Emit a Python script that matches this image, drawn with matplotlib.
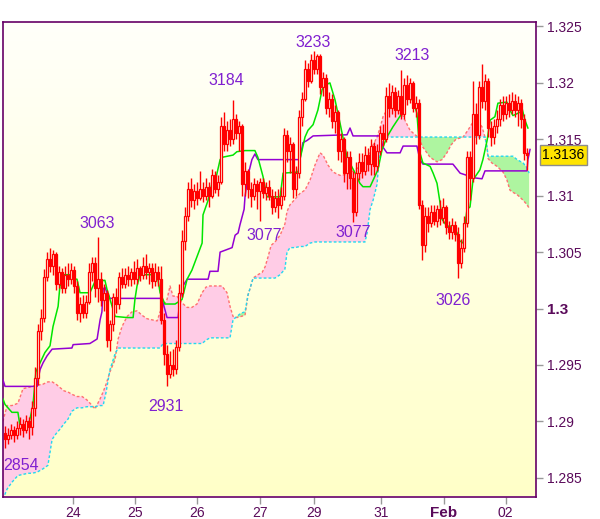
import numpy as np
import matplotlib
import matplotlib.pyplot as plt
from matplotlib.colors import LinearSegmentedColormap
from matplotlib import transforms

matplotlib.use("Agg")

# ── Data (prices stored as pips above 1.2800) ────────────────────────────────
BASE = 1.28

opens = [90, 84, 88, 92, 88, 94, 98, 92, 100, 95,
         112, 138, 180, 192, 228, 244, 238, 248, 222, 232,
         218, 230, 226, 234, 220, 196, 204, 196, 206, 232,
         240, 218, 226, 208, 214, 172, 186, 210, 204, 228,
         222, 230, 226, 232, 226, 236, 230, 238, 232, 236,
         224, 232, 226, 190, 160, 142, 150, 146, 166, 214,
         260, 282, 306, 296, 304, 298, 306, 300, 308, 300,
         318, 306, 312, 362, 346, 358, 350, 368, 356, 362,
         310, 322, 306, 300, 310, 304, 312, 302, 308, 300,
         290, 298, 292, 300, 354, 340, 346, 306, 320, 370,
         386, 412, 402, 420, 412, 424, 396, 404, 378, 386,
         366, 374, 340, 350, 320, 334, 316, 286, 320, 330,
         322, 336, 328, 344, 326, 340, 356, 350, 388, 378,
         392, 376, 388, 372, 398, 386, 400, 378, 382, 292,
         256, 282, 276, 286, 278, 288, 280, 290, 272, 268,
         274, 266, 240, 254, 276, 334, 316, 372, 354, 396,
         384, 402, 360, 352, 362, 368, 380, 372, 382, 376,
         384, 376, 382, 368, 338]
highs = [96, 94, 98, 96, 100, 104, 102, 106, 104, 118,
         148, 186, 200, 235, 250, 254, 252, 250, 238, 236,
         238, 240, 240, 238, 224, 210, 212, 212, 240, 246,
         246, 263, 232, 222, 216, 190, 214, 218, 232, 236,
         236, 238, 236, 242, 244, 238, 246, 248, 240, 240,
         240, 238, 238, 196, 168, 162, 164, 172, 222, 270,
         290, 312, 316, 310, 312, 322, 312, 316, 312, 324,
         322, 318, 370, 374, 366, 368, 385, 372, 366, 364,
         330, 324, 312, 316, 314, 316, 316, 312, 314, 306,
         304, 306, 308, 360, 358, 352, 348, 326, 376, 392,
         420, 418, 426, 428, 426, 426, 410, 408, 392, 390,
         380, 376, 356, 352, 340, 340, 322, 330, 338, 338,
         344, 342, 350, 348, 346, 362, 364, 396, 400, 398,
         396, 394, 411, 404, 407, 404, 402, 388, 386, 296,
         290, 290, 292, 292, 292, 296, 298, 292, 278, 280,
         278, 272, 262, 282, 340, 340, 402, 382, 402, 417,
         408, 404, 366, 368, 376, 386, 388, 388, 390, 392,
         390, 388, 386, 372, 342]
lows = [76, 80, 84, 82, 84, 88, 86, 90, 84, 88,
        105, 132, 172, 188, 224, 232, 230, 216, 218, 214,
        214, 220, 222, 214, 190, 188, 192, 192, 204, 224,
        210, 206, 202, 198, 166, 162, 180, 196, 200, 218,
        218, 220, 220, 222, 222, 224, 226, 226, 222, 218,
        220, 220, 186, 150, 131, 138, 140, 142, 162, 210,
        252, 278, 290, 288, 292, 296, 294, 296, 290, 298,
        302, 300, 310, 340, 340, 344, 346, 350, 340, 300,
        300, 298, 290, 296, 288, 278, 298, 296, 296, 284,
        286, 280, 288, 296, 330, 320, 298, 300, 316, 362,
        384, 396, 400, 408, 408, 390, 388, 372, 370, 360,
        356, 332, 330, 312, 306, 306, 277, 282, 314, 316,
        318, 322, 318, 318, 322, 336, 344, 348, 370, 372,
        370, 372, 368, 368, 380, 382, 374, 370, 288, 243,
        250, 268, 272, 274, 272, 274, 276, 266, 262, 262,
        260, 227, 236, 250, 272, 296, 312, 346, 350, 378,
        376, 352, 344, 346, 356, 362, 366, 368, 370, 372,
        370, 362, 360, 332, 323]
closes = [84, 88, 92, 88, 94, 98, 92, 100, 95, 112,
          138, 180, 192, 228, 244, 238, 248, 222, 232, 218,
          230, 226, 234, 220, 196, 204, 196, 206, 232, 240,
          218, 226, 208, 214, 172, 186, 210, 204, 228, 222,
          230, 226, 232, 226, 236, 230, 238, 232, 236, 224,
          232, 226, 190, 160, 142, 150, 146, 166, 214, 260,
          282, 306, 296, 304, 298, 306, 300, 308, 300, 318,
          306, 312, 362, 346, 358, 350, 368, 356, 362, 310,
          322, 306, 300, 310, 304, 312, 302, 308, 300, 290,
          298, 292, 300, 354, 340, 346, 306, 320, 370, 386,
          412, 402, 420, 412, 424, 396, 404, 378, 386, 366,
          374, 340, 350, 320, 334, 316, 286, 320, 330, 322,
          336, 328, 344, 326, 340, 356, 350, 388, 378, 392,
          376, 388, 372, 398, 386, 400, 378, 382, 292, 256,
          282, 276, 286, 278, 288, 280, 290, 272, 268, 274,
          266, 240, 254, 276, 334, 316, 372, 354, 396, 384,
          402, 360, 352, 362, 368, 380, 372, 382, 376, 384,
          376, 382, 368, 338, 336]

# Tenkan (green) and Kijun (purple): (bar, pips) vertices
tenkan_x = [-0.7, 0, 2.3, 4.3, 5, 7.7, 8.3, 9.3, 10.3, 11.7, 13.3, 15, 16, 17.7,
            18.3, 19, 19.3, 21.7, 22.7, 24, 25, 28.3, 30, 33.3, 34, 36.7, 40.7,
            42.7, 43.3, 44, 45, 50.7, 51.7, 53.3, 56.7, 59, 60.7, 62.3, 64, 65.7,
            66, 67.7, 69, 70, 71.7, 72.3, 76, 77.3, 80, 83.3, 84.3, 86, 87.3, 91.7,
            92.7, 97.7, 98.3, 100, 101, 102.7, 104.3, 105.7, 106.7, 108.3, 110,
            111.7, 114, 116.7, 118.3, 119.3, 121.7, 124.3, 125.7, 127.3, 129.3,
            132.3, 132.7, 134, 136, 137.3, 138.3, 139.3, 141.7, 142.7, 144, 145,
            145.7, 147.3, 149.3, 150.7, 151, 152.7, 153.3, 154, 155, 156, 158.3,
            159.3, 160.7, 161.7, 163.3, 164.3, 167.3, 168.3, 169.3, 171.7, 172.3,
            173.3, 174.3]
tenkan_v = [120, 115, 108, 108, 96, 96, 102, 114, 144, 152, 161, 167, 184, 202,
            220, 223, 230, 230, 226, 226, 214, 214, 224, 225, 217, 193, 192,
            192, 208, 220, 230, 230, 214, 204, 204, 208, 226, 234, 246, 258,
            283, 296, 311, 312, 332, 334, 336, 339, 340, 340, 334, 317, 299, 299,
            320, 321, 332, 352, 358, 363, 376, 394, 398, 400, 385,
            364, 334, 320, 311, 308, 308, 323, 341, 352, 361,
            373, 385, 386, 385, 373, 338, 329, 326, 320, 311, 294,
            279, 273, 273, 267, 261, 258, 273, 288, 290, 314, 323,
            332, 349, 367, 370, 382, 383, 376, 371, 374, 378,
            367, 360]

kijun_x = [-0.7, 0, 10.7, 11, 11.7, 12.7, 14, 15.7, 22.3, 22.7, 28.3, 30.7,
           31.7, 32.3, 32.7, 33.3, 34, 35, 52.3, 53.3, 54, 57.7, 58.3, 59.3,
           60.7, 67.7, 68.3, 71, 71.7, 75.7, 76.7, 77.7, 78.3, 79.7, 80, 81,
           82.3, 83.3, 84.3, 98.3, 99.3, 100.7, 102.7, 114, 115, 116, 125, 126,
           127.3, 131.7, 132.7, 137.3, 138.3, 139.3, 149.3, 151.7, 154, 156,
           159, 160, 174, 174.3, 175]
kijun_v = [137, 131, 131, 137, 146, 152, 158, 164, 165, 168, 169, 173,
           190, 197, 217, 219, 214, 209, 209, 199, 192, 192, 208, 220,
           226, 226, 233, 233, 250, 254, 265, 267, 274, 288, 299, 318,
           332, 337, 332, 332, 347, 349, 353, 354, 360, 353, 353, 343,
           338, 338, 344, 344, 332, 328, 328, 320, 318, 316,
           315, 322, 322, 332, 341]

# Cloud: Senkou A (red dashed) and Senkou B (cyan dashed) at shared bars
cloud_x = [-0.7, 0.7, 2.3, 4.3, 6, 7.7, 9, 10.7, 12.7, 14.3, 15.7, 17, 18.3, 19.7,
           21, 22.3, 24, 25.7, 27.3, 28.7, 30, 31.7, 32.7, 33.7, 35, 36.7, 37.7,
           39, 40.7, 42.3, 44, 45.7, 47.3, 49, 50.7, 51.7, 52.7, 54, 55, 56, 57.3,
           59, 60.7, 62.3, 64, 65.7, 67, 68.3, 70, 72.3, 74, 75, 76, 77.3, 78.7,
           80, 81, 81.7, 82.7, 84.3, 85.7, 86.7, 87.7, 88.7, 90, 91.7, 93.3, 94,
           95, 96.7, 98.3, 100, 101.7, 103.3, 105, 106, 107.7, 109.3, 111.7, 114,
           116.7, 119, 120, 120.7, 121.7, 122.7, 124, 125, 126, 127.7, 129.3,
           131.7, 133.3, 135, 136.7, 137.7, 139.3, 141.7, 144, 145.7, 147.3,
           148.7, 150.3, 152.7, 154.3, 155.7, 157.3, 159, 160, 160.7, 161,
           162.3, 164, 166, 167.3, 168.3, 169.3, 170.7, 172.7, 174, 174.7]
span_a = [100, 114, 114, 116, 129, 130, 131, 132, 133, 135, 135, 133, 130, 127,
          126, 124, 122, 122, 119, 115, 111, 120, 126, 133, 144, 155, 173,
          184, 193, 197, 198, 194, 191, 190, 189, 197, 202, 208, 220, 211, 211,
          205, 201, 201, 204, 214, 219, 220, 220, 220, 214, 202, 193, 192, 193,
          194, 212, 218, 227, 230, 232, 237, 246, 256, 259, 265, 275, 286,
          292, 297, 302, 305, 314, 327, 338, 336, 327, 321, 318, 319,
          323, 327, 330, 333, 339, 345, 352, 360, 370, 378, 382,
          376, 367, 358, 354, 352, 343, 334, 330, 332, 338,
          345, 350, 352, 358, 364, 367, 361, 352, 342, 333,
          329, 326, 321, 314, 305, 303, 301, 296, 292, 289]
span_b = [31, 40, 46, 52, 53, 54, 54, 55, 58, 61, 84, 89, 93, 98,
          102, 109, 112, 112, 113, 113, 113, 114, 114, 126, 146, 160, 165,
          165, 165, 165, 165, 165, 165, 165, 165, 165, 169, 169, 169, 169, 169,
          169, 169, 169, 169, 169, 172, 174, 174, 174, 174, 174, 190, 193, 196,
          197, 212, 218, 227, 227, 227, 227, 227, 227, 227, 230, 235, 250,
          254, 254, 255, 255, 258, 259, 259, 259, 259, 259, 259, 259,
          259, 259, 259, 267, 288, 296, 310, 341, 352, 352, 352,
          352, 352, 352, 352, 352, 352, 352, 352, 352, 352,
          352, 352, 352, 352, 352, 352, 352, 352, 343, 335,
          335, 335, 335, 335, 335, 335, 332, 329, 325, 320]

# Swing labels: text, bar, pips (label centre)
swing_labels = [("3233", 102.7, 436), ("3184", 73.7, 402), ("3213", 135.7, 424),
                ("3063", 30.7, 275), ("3077", 86.3, 265), ("3077", 116.0, 267),
                ("3026", 149.3, 207), ("2931", 53.7, 113), ("2854", 5.3, 61)]

day_ticks = [22.6, 43.4, 64.1, 84.9, 103.1, 125.4, 146.2, 166.9]
day_labels = ["24", "25", "26", "27", "29", "31", "Feb", "02"]
price_ticks = [1.285, 1.29, 1.295, 1.3, 1.305, 1.31, 1.315, 1.32, 1.325]
last_price = 1.3136

# ── Theme ────────────────────────────────────────────────────────────────────
_FRAME = "#660066"
_TEXT = "#5a0a5a"
_RED = "#ff0000"
_GREEN = "#00e600"
_PURPLE = "#9400d3"
_PINK = "#ffcce6"
_LGREEN = "#aef5a0"
_SPAN_A = "#ff7070"
_SPAN_B = "#22d8f0"
_LABEL = "#8020d0"

plt.rcParams["font.family"] = ["Liberation Sans", "DejaVu Sans"]


def to_price(v):
    return BASE + np.asarray(v, dtype=float) / 10000.0


o, h, l, c = (to_price(a) for a in (opens, highs, lows, closes))
xb = np.arange(len(closes))

fig = plt.figure(figsize=(6.0, 5.19), dpi=100)
fig.patch.set_facecolor("white")
ax = fig.add_axes([3 / 600, 1 - 496.5 / 519, 532.5 / 600, 474.2 / 519])

xlim = (-0.67, 176.83)
ylim = (1.28334, 1.32537)
ax.set_xlim(*xlim)
ax.set_ylim(*ylim)

# background gradient
bg = LinearSegmentedColormap.from_list("bg", ["#ffffc8", "#fffffa"])
ax.imshow(np.linspace(0, 1, 256).reshape(-1, 1), cmap=bg, origin="lower",
          extent=[xlim[0], xlim[1], ylim[0], ylim[1]], aspect="auto", zorder=0)

# cloud
cx = np.array(cloud_x)
sa = to_price(span_a)
sb = to_price(span_b)
ax.fill_between(cx, sa, sb, where=sa >= sb, interpolate=True,
                facecolor=_PINK, lw=0, zorder=1)
ax.fill_between(cx, sa, sb, where=sa < sb, interpolate=True,
                facecolor=_LGREEN, lw=0, zorder=1)
ax.plot(cx, sa, color=_SPAN_A, lw=1, dashes=(2, 1.5), zorder=2)
ax.plot(cx, sb, color=_SPAN_B, lw=1, dashes=(2, 1.5), zorder=2)

# kijun / tenkan
ax.plot(kijun_x, to_price(kijun_v), color=_PURPLE, lw=1.1, zorder=3)
ax.plot(tenkan_x, to_price(tenkan_v), color=_GREEN, lw=1.1, zorder=3)

# candles
ax.vlines(xb, l, h, color=_RED, lw=1, zorder=4)
up = c >= o
body_lo = np.minimum(o, c)
body_h = np.maximum(np.abs(c - o), 0.00004)
ax.bar(xb[up], body_h[up], bottom=body_lo[up], width=0.62,
       facecolor="#fffff0", edgecolor=_RED, lw=0.9, zorder=5)
ax.bar(xb[~up], body_h[~up], bottom=body_lo[~up], width=0.62,
       facecolor=_RED, edgecolor=_RED, lw=0.9, zorder=5)

# swing labels
for txt, bx, pv in swing_labels:
    ax.text(bx, to_price(pv), txt, color=_LABEL, fontsize=11.5,
            ha="center", va="center", zorder=6)

# axes styling
for sp in ax.spines.values():
    sp.set_color(_FRAME)
    sp.set_linewidth(1.2)

ax.yaxis.tick_right()
ax.set_yticks(price_ticks)
ax.set_yticklabels([f"{v:g}" for v in price_ticks])
ax.tick_params(axis="y", which="both", left=False, right=True, length=5,
               width=1, color="#999999", pad=3, labelsize=10, labelcolor=_TEXT)
for t in ax.get_yticklabels():
    if t.get_text() == "1.3":
        t.set_fontweight("bold")
        t.set_fontsize(11)

ax.set_xticks(day_ticks)
ax.set_xticklabels(day_labels)
ax.tick_params(axis="x", length=5, width=1, color="#999999", pad=2,
               labelsize=10, labelcolor=_TEXT)
for t in ax.get_xticklabels():
    if t.get_text() == "Feb":
        t.set_fontweight("bold")
        t.set_fontsize(11)

# last price tag
trans = transforms.blended_transform_factory(ax.transAxes, ax.transData)
ax.text(1.013, last_price, f"{last_price:.4f}", transform=trans,
        ha="left", va="center", fontsize=10, color="black", clip_on=False,
        bbox=dict(boxstyle="square,pad=0.2", facecolor="#ffe400",
                  edgecolor="#8c8c8c", lw=1))

fig.savefig("out.png", dpi=100, facecolor="white")
plt.close(fig)
